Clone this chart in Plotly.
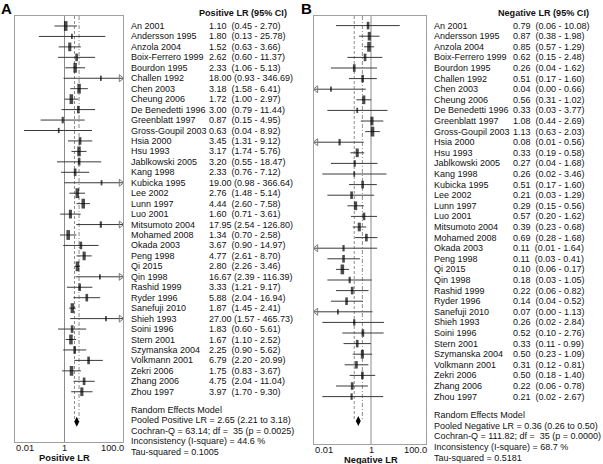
import plotly.graph_objects as go
import math

# ---------------- data ----------------
studies = ["An 2001", "Andersson 1995", "Anzola 2004", "Boix-Ferrero 1999", "Bourdon 1995",
           "Challen 1992", "Chen 2003", "Cheung 2006", "De Benedetti 1996", "Greenblatt 1997",
           "Gross-Goupil 2003", "Hsia 2000", "Hsu 1993", "Jablkowski 2005", "Kang 1998",
           "Kubicka 1995", "Lee 2002", "Lunn 1997", "Luo 2001", "Mitsumoto 2004",
           "Mohamed 2008", "Okada 2003", "Peng 1998", "Qi 2015", "Qin 1998",
           "Rashid 1999", "Ryder 1996", "Sanefuji 2010", "Shieh 1993", "Soini 1996",
           "Stern 2001", "Szymanska 2004", "Volkmann 2001", "Zekri 2006", "Zhang 2006",
           "Zhou 1997"]

pos_lr = [1.10, 1.80, 1.52, 2.62, 2.33, 18.00, 3.18, 1.72, 3.00, 0.87,
          0.63, 3.45, 3.17, 3.20, 2.33, 19.00, 2.76, 4.44, 1.60, 17.95,
          1.34, 3.67, 4.77, 2.80, 16.67, 3.33, 5.88, 1.87, 27.00, 1.83,
          1.67, 2.25, 6.79, 1.75, 4.75, 3.97]
pos_lo = [0.45, 0.13, 0.63, 0.60, 1.06, 0.93, 1.58, 1.00, 0.79, 0.15,
          0.04, 1.31, 1.74, 0.55, 0.76, 0.98, 1.48, 2.60, 0.71, 2.54,
          0.70, 0.90, 2.61, 2.26, 2.39, 1.21, 2.04, 1.45, 1.57, 0.60,
          1.10, 0.90, 2.20, 0.83, 2.04, 1.70]
pos_hi = [2.70, 25.78, 3.66, 11.37, 5.13, 346.69, 6.41, 2.97, 11.44, 4.95,
          8.92, 9.12, 5.76, 18.47, 7.12, 366.64, 5.14, 7.58, 3.61, 126.80,
          2.58, 14.97, 8.70, 3.46, 116.39, 9.17, 16.94, 2.41, 465.73, 5.61,
          2.52, 5.62, 20.99, 3.67, 11.04, 9.30]
pos_weight = [5, 1, 4, 3, 5, 1, 5, 5, 3, 2,
              1, 3, 5, 3, 3, 1, 5, 5, 4, 2,
              5, 3, 4, 5, 1, 3, 3, 5, 1, 3,
              5, 3, 3, 5, 3, 4]
pos_pooled = [2.65, 2.21, 3.18]
pos_stats = ["Random Effects Model",
             "Pooled Positive LR = 2.65 (2.21 to 3.18)",
             "Cochran-Q = 63.14; df =  35 (p = 0.0025)",
             "Inconsistency (I-square) = 44.6 %",
             "Tau-squared = 0.1005"]

neg_lr = [0.79, 0.87, 0.85, 0.62, 0.26, 0.51, 0.04, 0.56, 0.33, 1.08,
          1.13, 0.08, 0.33, 0.27, 0.26, 0.51, 0.21, 0.29, 0.57, 0.39,
          0.69, 0.11, 0.11, 0.10, 0.18, 0.22, 0.14, 0.07, 0.26, 0.52,
          0.33, 0.50, 0.31, 0.50, 0.22, 0.21]
neg_lo = [0.06, 0.38, 0.57, 0.15, 0.04, 0.17, 0.00, 0.31, 0.03, 0.44,
          0.63, 0.01, 0.19, 0.04, 0.02, 0.17, 0.03, 0.15, 0.20, 0.23,
          0.28, 0.01, 0.03, 0.06, 0.03, 0.06, 0.04, 0.00, 0.02, 0.10,
          0.11, 0.23, 0.12, 0.18, 0.06, 0.02]
neg_hi = [10.08, 1.98, 1.29, 2.48, 1.62, 1.60, 0.66, 1.02, 3.77, 2.69,
          2.03, 0.56, 0.58, 1.68, 3.46, 1.60, 1.29, 0.56, 1.62, 0.68,
          1.68, 1.64, 0.41, 0.17, 1.05, 0.82, 0.52, 1.13, 2.84, 2.76,
          0.99, 1.09, 0.81, 1.40, 0.78, 2.67]
neg_weight = [3, 4, 5, 3, 3, 3, 1, 4, 1, 4,
              5, 2, 4, 2, 1, 3, 3, 4, 3, 4,
              3, 2, 3, 5, 2, 3, 3, 1, 2, 3,
              3, 4, 3, 3, 3, 2]
neg_pooled = [0.36, 0.26, 0.50]
neg_stats = ["Random Effects Model",
             "Pooled Negative LR = 0.36 (0.26 to 0.50)",
             "Cochran-Q = 111.82; df =  35 (p = 0.0000)",
             "Inconsistency (I-square) = 68.7 %",
             "Tau-squared = 0.5181"]

tick_labels = ["0.01", "1", "100.0"]

# ---------------- layout helpers ----------------
W, H = 603, 464
FONT = "Liberation Sans, Arial, Helvetica, sans-serif"
GRID = "#8c8c8c"
TXT = 9.0


def px(x):
    return x / W


def py(y):
    return 1 - y / H


panels = [
    dict(letter="A", lr=pos_lr, lo=pos_lo, hi=pos_hi, wt=pos_weight, pooled=pos_pooled,
         stats=pos_stats, header="Positive LR (95% CI)", title="Positive LR",
         xa="x", ya="y", box=(14.7, 123.0, 16.0, 442.0), logrange=(-1.72, 2.02),
         row0=26.0, rowh=10.45, dgap=2.87, name_x=130, val_x=208, head_x=198, letter_x=0),
    dict(letter="B", lr=neg_lr, lo=neg_lo, hi=neg_hi, wt=neg_weight, pooled=neg_pooled,
         stats=neg_stats, header="Negative LR (95% CI)", title="Negative LR",
         xa="x2", ya="y2", box=(314.0, 426.0, 16.0, 444.0), logrange=(-1.99, 1.92),
         row0=25.6, rowh=10.6, dgap=2.3, name_x=433, val_x=512, head_x=497, letter_x=300),
]

fig = go.Figure()
annotations = []
layout_axes = {}

for k, p in enumerate(panels):
    n = len(studies)
    x0, x1, ytop, ybot = p["box"]
    lmin, lmax = p["logrange"]
    xmin, xmax = 10 ** lmin, 10 ** lmax
    r_top = (ytop - p["row0"]) / p["rowh"]
    r_bot = (ybot - p["row0"]) / p["rowh"]
    drow = n - 1 + p["dgap"]
    pxdec = (x1 - x0) / (lmax - lmin)  # pixels per decade
    axn = "" if k == 0 else str(k + 1)

    def row_y(r, p=p):
        return py(p["row0"] + p["rowh"] * r)

    layout_axes["xaxis" + axn] = dict(
        type="log", range=[lmin, lmax], domain=[px(x0), px(x1)], anchor=p["ya"],
        showgrid=False, zeroline=False, showline=True, mirror=True,
        linecolor="#a0a0a0", linewidth=1, ticks="", showticklabels=False)
    layout_axes["yaxis" + axn] = dict(
        range=[r_bot, r_top], domain=[py(ybot), py(ytop)], anchor=p["xa"],
        showgrid=False, zeroline=False, showline=True, mirror=True,
        linecolor="#a0a0a0", linewidth=1, showticklabels=False, ticks="")

    # line of no effect
    fig.add_trace(go.Scatter(x=[1, 1], y=[r_top, r_bot], mode="lines",
                             line=dict(color=GRID, width=1), xaxis=p["xa"], yaxis=p["ya"],
                             hoverinfo="skip", showlegend=False))
    # pooled CI lines
    fig.add_trace(go.Scatter(x=[p["pooled"][1]] * 2, y=[r_top, drow], mode="lines",
                             line=dict(color=GRID, width=1, dash="3px,2px"),
                             xaxis=p["xa"], yaxis=p["ya"], hoverinfo="skip", showlegend=False))
    fig.add_trace(go.Scatter(x=[p["pooled"][2]] * 2, y=[r_top, drow], mode="lines",
                             line=dict(color=GRID, width=1, dash="4px,2px,1px,2px"),
                             xaxis=p["xa"], yaxis=p["ya"], hoverinfo="skip", showlegend=False))

    # CI whiskers
    cx, cy = [], []
    for i in range(n):
        lo = max(p["lo"][i], xmin)
        hi = min(p["hi"][i], xmax)
        cx += [lo, hi, None]
        cy += [i, i, None]
    fig.add_trace(go.Scatter(x=cx, y=cy, mode="lines", line=dict(color="#3a3a3a", width=1),
                             xaxis=p["xa"], yaxis=p["ya"], hoverinfo="skip", showlegend=False,
                             cliponaxis=False))

    # truncation arrows
    off = 10 ** (2.2 / pxdec)
    rx = [xmax / off for i in range(n) if p["hi"][i] > xmax]
    ry = [i for i in range(n) if p["hi"][i] > xmax]
    lx = [xmin * off for i in range(n) if p["lo"][i] < xmin]
    ly = [i for i in range(n) if p["lo"][i] < xmin]
    if rx:
        fig.add_trace(go.Scatter(x=rx, y=ry, mode="markers",
                                 marker=dict(symbol="triangle-right-open", size=6,
                                             color="#777", line=dict(width=1)),
                                 xaxis=p["xa"], yaxis=p["ya"], showlegend=False, cliponaxis=False))
    if lx:
        fig.add_trace(go.Scatter(x=lx, y=ly, mode="markers",
                                 marker=dict(symbol="triangle-left-open", size=6,
                                             color="#777", line=dict(width=1)),
                                 xaxis=p["xa"], yaxis=p["ya"], showlegend=False, cliponaxis=False))

    # weighted point estimates (rectangles)
    fig.add_trace(go.Scatter(
        x=p["lr"], y=list(range(n)), mode="markers",
        marker=dict(symbol="line-ns", size=[3.0 + 0.8 * w for w in p["wt"]],
                    line=dict(color="black", width=[1.3 + 0.45 * w for w in p["wt"]])),
        xaxis=p["xa"], yaxis=p["ya"], showlegend=False, cliponaxis=False))

    # pooled diamond
    fig.add_trace(go.Scatter(x=[p["pooled"][0]], y=[drow], mode="markers",
                             marker=dict(symbol="diamond-tall", size=7, color="black"),
                             xaxis=p["xa"], yaxis=p["ya"], showlegend=False))

    # tick labels
    tfont = dict(family=FONT, size=9.3, color="#111")
    annotations.append(dict(x=px(x0), y=py(ybot + 5.5), xref="paper", yref="paper",
                            text=tick_labels[0], showarrow=False, xanchor="left", yanchor="middle",
                            font=tfont, borderpad=0))
    annotations.append(dict(x=0, y=py(ybot + 5.5), xref=p["xa"], yref="paper",
                            text=tick_labels[1], showarrow=False, xanchor="center", yanchor="middle",
                            font=tfont, borderpad=0))
    annotations.append(dict(x=px(x1 + 1.5), y=py(ybot + 5.5), xref="paper", yref="paper",
                            text=tick_labels[2], showarrow=False, xanchor="right", yanchor="middle",
                            font=tfont, borderpad=0))
    # axis title
    annotations.append(dict(x=0, y=py(ybot + 15.5), xref=p["xa"], yref="paper",
                            text="<b>%s</b>" % p["title"], showarrow=False,
                            xanchor="center", yanchor="middle", borderpad=0,
                            font=dict(family=FONT, size=9.3, color="#111")))
    # panel letter
    annotations.append(dict(x=px(p["letter_x"]), y=py(-1), xref="paper", yref="paper",
                            text="<b>%s</b>" % p["letter"], showarrow=False,
                            xanchor="left", yanchor="top", borderpad=0,
                            font=dict(family=FONT, size=15, color="black")))
    # column header
    annotations.append(dict(x=px(p["head_x"]), y=py(12.5), xref="paper", yref="paper",
                            text="<b>%s</b>" % p["header"], showarrow=False,
                            xanchor="left", yanchor="middle", borderpad=0,
                            font=dict(family=FONT, size=9.1, color="#111")))
    # study rows
    for i in range(n):
        annotations.append(dict(x=px(p["name_x"]), y=row_y(i), xref="paper", yref="paper",
                                text=studies[i], showarrow=False, xanchor="left",
                                yanchor="middle", borderpad=0,
                                font=dict(family=FONT, size=TXT, color="#111")))
        vtxt = "%-5.2f" % p["lr"][i]
        ctxt = "(%.2f - %.2f)" % (p["lo"][i], p["hi"][i])
        annotations.append(dict(x=px(p["val_x"]), y=row_y(i), xref="paper", yref="paper",
                                text=(vtxt + " " + ctxt).replace("  ", "&nbsp; "),
                                showarrow=False, xanchor="left",
                                yanchor="middle", borderpad=0,
                                font=dict(family=FONT, size=TXT, color="#111")))
    # summary statistics
    for j, s in enumerate(p["stats"]):
        annotations.append(dict(x=px(p["name_x"]), y=row_y(n - 1 + 1.75 + j), xref="paper",
                                yref="paper", text=s.replace("  ", "&nbsp; "), showarrow=False,
                                xanchor="left", yanchor="middle", borderpad=0,
                                font=dict(family=FONT, size=TXT, color="#111")))

fig.update_layout(
    width=W, height=H, margin=dict(l=0, r=0, t=0, b=0),
    paper_bgcolor="white", plot_bgcolor="white",
    showlegend=False, annotations=annotations, **layout_axes)

fig.write_html("out.html", config={"displayModeBar": False},
               post_script="document.body.style.margin='0';document.body.style.padding='0';")
